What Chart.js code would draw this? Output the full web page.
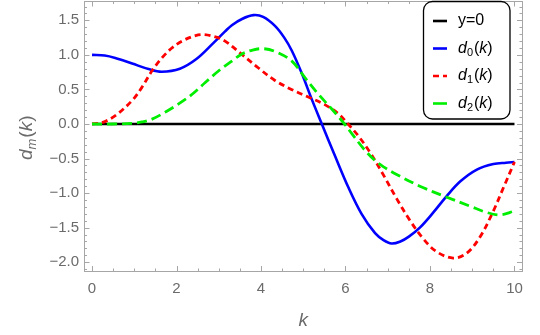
<!DOCTYPE html>
<html><head><meta charset="utf-8">
<script src="https://cdn.jsdelivr.net/npm/chart.js@4/dist/chart.umd.min.js"></script>
<style>html,body{margin:0;padding:0;background:#fff;overflow:hidden}</style>
</head><body>
<canvas id="c" width="540" height="335"></canvas>
<script>
// ---- data ----
const d0K = [0, 0.3, 0.55, 0.95, 1.34, 1.65, 2.08, 2.47, 2.87, 3.15, 3.31, 3.55, 3.82, 4.05, 4.33, 4.55, 4.73, 4.96, 5.20, 5.44, 5.75, 6.07, 6.38, 6.70, 6.90, 7.09, 7.30, 7.50, 7.76, 8.08, 8.40, 8.72, 9.11, 9.50, 9.80, 10];
const d0Vals = [1.0, 0.99, 0.955, 0.875, 0.795, 0.757, 0.80, 0.94, 1.17, 1.34, 1.43, 1.52, 1.575, 1.55, 1.42, 1.25, 1.06, 0.74, 0.36, 0.0, -0.46, -0.92, -1.30, -1.58, -1.68, -1.73, -1.70, -1.63, -1.50, -1.28, -1.04, -0.83, -0.66, -0.58, -0.56, -0.55];

const d1K = [0, 0.24, 0.55, 0.95, 1.18, 1.42, 1.66, 1.89, 2.13, 2.45, 2.64, 2.92, 3.15, 3.54, 3.94, 4.33, 4.72, 5.12, 5.51, 5.83, 6.06, 6.30, 6.58, 6.90, 7.21, 7.53, 7.84, 8.16, 8.55, 8.87, 9.18, 9.50, 9.74, 10];
const d1Vals = [0, 0.02, 0.12, 0.34, 0.53, 0.77, 0.96, 1.10, 1.20, 1.28, 1.295, 1.26, 1.20, 1.01, 0.81, 0.63, 0.50, 0.39, 0.28, 0.15, 0.0, -0.17, -0.41, -0.74, -1.08, -1.40, -1.66, -1.85, -1.94, -1.87, -1.64, -1.26, -0.92, -0.55];

const d2K = [0, 0.5, 0.95, 1.18, 1.42, 1.73, 2.05, 2.37, 2.68, 3.00, 3.31, 3.54, 3.80, 4.05, 4.33, 4.73, 5.04, 5.36, 5.67, 5.95, 6.15, 6.46, 6.70, 6.90, 7.21, 7.76, 8.40, 8.95, 9.34, 9.66, 10];
const d2Vals = [0, 0.0, 0.01, 0.03, 0.07, 0.17, 0.29, 0.43, 0.60, 0.77, 0.91, 1.01, 1.07, 1.09, 1.05, 0.91, 0.67, 0.43, 0.22, 0.02, -0.14, -0.38, -0.53, -0.62, -0.73, -0.90, -1.06, -1.19, -1.28, -1.315, -1.26];

const zeroK = [0, 10];
const zeroVals = [0, 0];

const xTickVals = [0, 2, 4, 6, 8, 10];
const yTickVals = [-2, -1.5, -1, -0.5, 0, 0.5, 1, 1.5];
const xMinorStep = 0.5;
const yMinorStep = 0.1;
const xRange = [-0.19, 10.19];
const yRange = [-2.135, 1.78];

const legendNames = ['y=0', 'd0(k)', 'd1(k)', 'd2(k)'];
const legendSubs = [null, '0', '1', '2'];
const xTitle = 'k';

// ---- helpers ----
const pts = (ks, vs) => ks.map((k, i) => ({x: k, y: vs[i]}));
const FRAME = '#a6a6a6';
const LABEL = '#6b6b6b';
const SANS = '"Liberation Sans", Arial, sans-serif';

function richWidth(ctx, parts) {
  let w = 0;
  for (const p of parts) { ctx.font = p.font; w += ctx.measureText(p.t).width + (p.sp || 0); }
  return w;
}
function drawRich(ctx, parts, x, y) {
  let cx = x;
  for (const p of parts) {
    ctx.font = p.font;
    ctx.fillText(p.t, cx, y + (p.dy || 0));
    cx += ctx.measureText(p.t).width + (p.sp || 0);
  }
}

const framePlugin = {
  id: 'frame',
  beforeDatasetsDraw(chart) {
    const {ctx, chartArea: a, scales: {x, y}} = chart;
    ctx.save();
    ctx.strokeStyle = FRAME;
    ctx.lineWidth = 1;
    ctx.strokeRect(Math.round(a.left) + 0.5, Math.round(a.top) + 0.5, Math.round(a.right - a.left) - 1, Math.round(a.bottom - a.top) - 1);
    ctx.beginPath();
    for (let i = 0; i <= Math.round(10 / xMinorStep); i++) {
      const v = i * xMinorStep;
      const major = xTickVals.some(t => Math.abs(t - v) < 1e-6);
      const len = major ? 5.5 : 3;
      const px = Math.round(x.getPixelForValue(v)) + 0.5;
      ctx.moveTo(px, a.bottom); ctx.lineTo(px, a.bottom - len);
      ctx.moveTo(px, a.top); ctx.lineTo(px, a.top + len);
    }
    for (let i = -21; i <= 17; i++) {
      const v = i * yMinorStep;
      const major = yTickVals.some(t => Math.abs(t - v) < 1e-6);
      const len = major ? 5.5 : 3;
      const py = Math.round(y.getPixelForValue(v)) + 0.5;
      ctx.moveTo(a.left, py); ctx.lineTo(a.left + len, py);
      ctx.moveTo(a.right, py); ctx.lineTo(a.right - len, py);
    }
    ctx.stroke();
    ctx.restore();
  },
  afterDraw(chart) {
    const {ctx, scales: {x, y}} = chart;
    ctx.save();
    ctx.fillStyle = LABEL;
    ctx.textBaseline = 'middle';
    ctx.textAlign = 'left';
    const kParts = [{t: xTitle, font: 'italic 19px ' + SANS}];
    const kw = richWidth(ctx, kParts);
    drawRich(ctx, kParts, x.getPixelForValue(5) - kw / 2, 321);

    const yParts = [
      {t: 'd', font: 'italic 19px ' + SANS},
      {t: 'm', font: 'italic 13px ' + SANS, dy: 5, sp: 1},
      {t: '(', font: '19px ' + SANS},
      {t: 'k', font: 'italic 19px ' + SANS},
      {t: ')', font: '19px ' + SANS}
    ];
    const yw = richWidth(ctx, yParts);
    ctx.translate(27, y.getPixelForValue(-0.2));
    ctx.rotate(-Math.PI / 2);
    drawRich(ctx, yParts, -yw / 2, 0);
    ctx.setTransform(1, 0, 0, 1, 0, 0);

    const bx = 423.5, by = 1.5, bw = 86.5, bh = 117.5, r = 9;
    ctx.beginPath();
    ctx.roundRect(bx, by, bw, bh, r);
    ctx.fillStyle = '#fff';
    ctx.fill();
    ctx.lineWidth = 1.3;
    ctx.strokeStyle = '#000';
    ctx.stroke();
    const ds = chart.data.datasets;
    const rowY = [21, 48.5, 76, 103.5];
    legendNames.forEach((name, i) => {
      const d = ds[i];
      const yy = rowY[i];
      ctx.beginPath();
      ctx.strokeStyle = d.borderColor;
      ctx.lineWidth = 2.6;
      ctx.setLineDash(i === 2 ? [6, 4] : []);
      ctx.moveTo(433, yy); ctx.lineTo(447, yy);
      ctx.stroke();
      ctx.setLineDash([]);
      ctx.fillStyle = '#000';
      let parts;
      if (legendSubs[i] === null) {
        parts = [{t: name, font: '16px ' + SANS}];
      } else {
        parts = [
          {t: name.charAt(0), font: 'italic 16px ' + SANS},
          {t: legendSubs[i], font: '11px ' + SANS, dy: 4, sp: 1},
          {t: '(', font: '16px ' + SANS},
          {t: 'k', font: 'italic 16px ' + SANS},
          {t: ')', font: '16px ' + SANS}
        ];
      }
      drawRich(ctx, parts, 458, yy);
    });
    ctx.restore();
  }
};

new Chart(document.getElementById('c'), {
  type: 'line',
  data: {
    datasets: [
      {label: legendNames[0], data: pts(zeroK, zeroVals), borderColor: '#000000', borderWidth: 2.6, order: 4},
      {label: legendNames[1], data: pts(d0K, d0Vals), borderColor: '#0000ff', borderWidth: 2.6, order: 3},
      {label: legendNames[2], data: pts(d1K, d1Vals), borderColor: '#ff0000', borderWidth: 2.8, borderDash: [6, 4], order: 2},
      {label: legendNames[3], data: pts(d2K, d2Vals), borderColor: '#00ee00', borderWidth: 2.8, borderDash: [10, 5], order: 1}
    ]
  },
  options: {
    responsive: false,
    animation: false,
    devicePixelRatio: 1,
    layout: {padding: {top: 1, right: 17.5, left: 0, bottom: 0}},
    elements: {point: {radius: 0}, line: {tension: 0.35, fill: false}},
    plugins: {legend: {display: false}, tooltip: {enabled: false}},
    scales: {
      x: {
        type: 'linear', min: xRange[0], max: xRange[1],
        afterFit: s => { s.height = 63.5; s.paddingLeft = 0; s.paddingRight = 0; },
        afterBuildTicks: s => { s.ticks = xTickVals.map(v => ({value: v})); },
        grid: {display: false, drawTicks: false},
        border: {display: false},
        ticks: {color: LABEL, font: {family: SANS, size: 15}, padding: 8, maxRotation: 0, autoSkip: false,
          callback: v => String(v)}
      },
      y: {
        type: 'linear', min: yRange[0], max: yRange[1],
        afterFit: s => { s.width = 84; s.paddingTop = 0; s.paddingBottom = 0; },
        afterBuildTicks: s => { s.ticks = yTickVals.map(v => ({value: v})); },
        grid: {display: false, drawTicks: false},
        border: {display: false},
        ticks: {color: LABEL, font: {family: SANS, size: 15}, padding: 5, autoSkip: false,
          callback: v => (v < 0 ? '\u2212' : '') + Math.abs(v).toFixed(1)}
      }
    }
  },
  plugins: [framePlugin]
});
</script>
</body></html>
